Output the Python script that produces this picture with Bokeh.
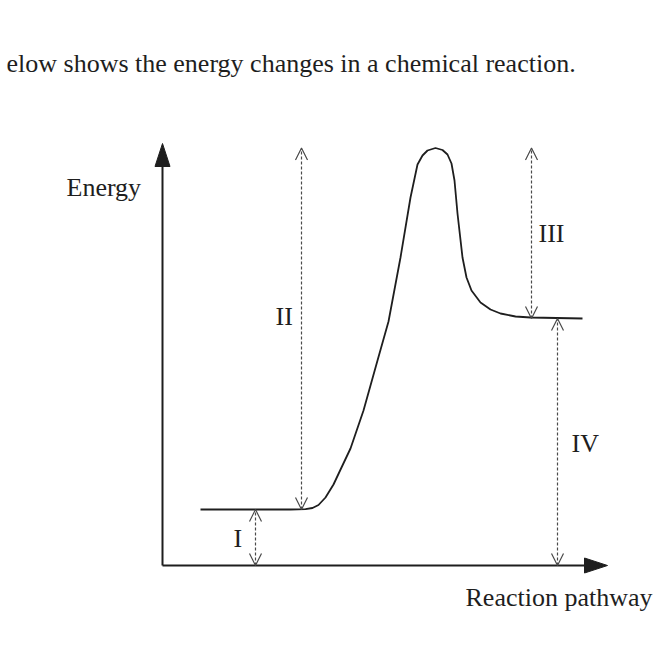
from bokeh.plotting import figure
from bokeh.models import Range1d, Arrow, OpenHead, ColumnDataSource
from bokeh.core.properties import value
from bokeh.embed import file_html
from bokeh.resources import INLINE

# ---- data (arbitrary energy units, pathway units) ----
path_x = [3.8, 12.8, 14.3, 15.0, 15.6, 16.3, 17.1, 17.9, 18.8, 20.1, 21.5, 22.6,
          23.8, 24.8, 25.5, 26.0, 26.5, 27.3, 28.0, 28.5, 28.9, 29.2, 29.5, 30.0,
          30.4, 30.9, 31.8, 32.8, 33.8, 35.3, 36.8, 42.0]
energy = [5.6, 5.6, 5.63, 5.75, 6.05, 6.8, 8.1, 9.8, 11.7, 15.5, 20.5, 24.4,
          30.8, 36.8, 40.1, 41.0, 41.5, 41.75, 41.55, 41.1, 40.2, 38.5, 35.2, 30.8,
          28.8, 27.5, 26.3, 25.6, 25.2, 24.9, 24.8, 24.7]

reactant_E = 5.6
peak_E = 41.75
product_E = 24.7
baseline_E = 0.0

arrow_labels = ["I", "II", "III", "IV"]
arrow_x = [9.3, 13.9, 36.9, 39.5]
arrow_lo = [baseline_E, reactant_E, product_E, baseline_E]
arrow_hi = [reactant_E, peak_E, peak_E, product_E]
label_x = [7.1, 11.3, 37.6, 40.9]
label_y = [2.7, 24.9, 33.2, 12.2]

axis_x_end = 44.5
axis_y_end = 42.2

title_text = "elow shows the energy changes in a chemical reaction."
y_label = "Energy"
x_label = "Reaction pathway"

FONT = value("Liberation Serif")
FS = "26px"
INK = "#1e1e1e"

p = figure(width=656, height=635, output_backend="svg", toolbar_location=None,
           x_range=Range1d(-16.2, 49.4), y_range=Range1d(-7.0, 56.5),
           min_border=0, outline_line_color=None)
p.axis.visible = False
p.grid.visible = False
p.background_fill_color = "white"
p.border_fill_color = "white"

# axes lines
hl, hw = 2.3, 0.75
p.line([0, 0], [0, axis_y_end - hl * 0.5], line_color=INK, line_width=2)
p.line([0, axis_x_end - hl * 0.5], [0, 0], line_color=INK, line_width=2)
p.patches(xs=[[0, -hw, hw], [axis_x_end, axis_x_end - hl, axis_x_end - hl]],
          ys=[[axis_y_end, axis_y_end - hl, axis_y_end - hl], [0, hw, -hw]],
          fill_color=INK, line_color=INK)

# energy curve
p.line(path_x, energy, line_color=INK, line_width=1.8)

# dashed double arrows
for x, lo, hi in zip(arrow_x, arrow_lo, arrow_hi):
    p.add_layout(Arrow(x_start=x, y_start=lo, x_end=x, y_end=hi,
                       line_color="#4a4a4a", line_width=1.2, line_dash="3 2",
                       start=OpenHead(size=12, line_color="#4a4a4a", line_width=1.2),
                       end=OpenHead(size=12, line_color="#4a4a4a", line_width=1.2)))

src = ColumnDataSource(dict(x=label_x, y=label_y, t=arrow_labels))
p.text(x="x", y="y", text="t", source=src, text_font=FONT, text_font_size=FS,
       text_color=INK, text_align="left", text_baseline="middle")

p.text(x=[-9.6], y=[37.8], text=[y_label], text_font=FONT, text_font_size=FS,
       text_color=INK, text_align="left", text_baseline="alphabetic")
p.text(x=[49.0], y=[-3.2], text=[x_label], text_font=FONT, text_font_size=FS,
       text_color=INK, text_align="right", text_baseline="middle")
p.text(x=[-15.6], y=[50.2], text=[title_text], text_font=FONT, text_font_size=FS,
       text_color=INK, text_align="left", text_baseline="alphabetic")

open("out.html", "w").write(file_html(p, INLINE))
